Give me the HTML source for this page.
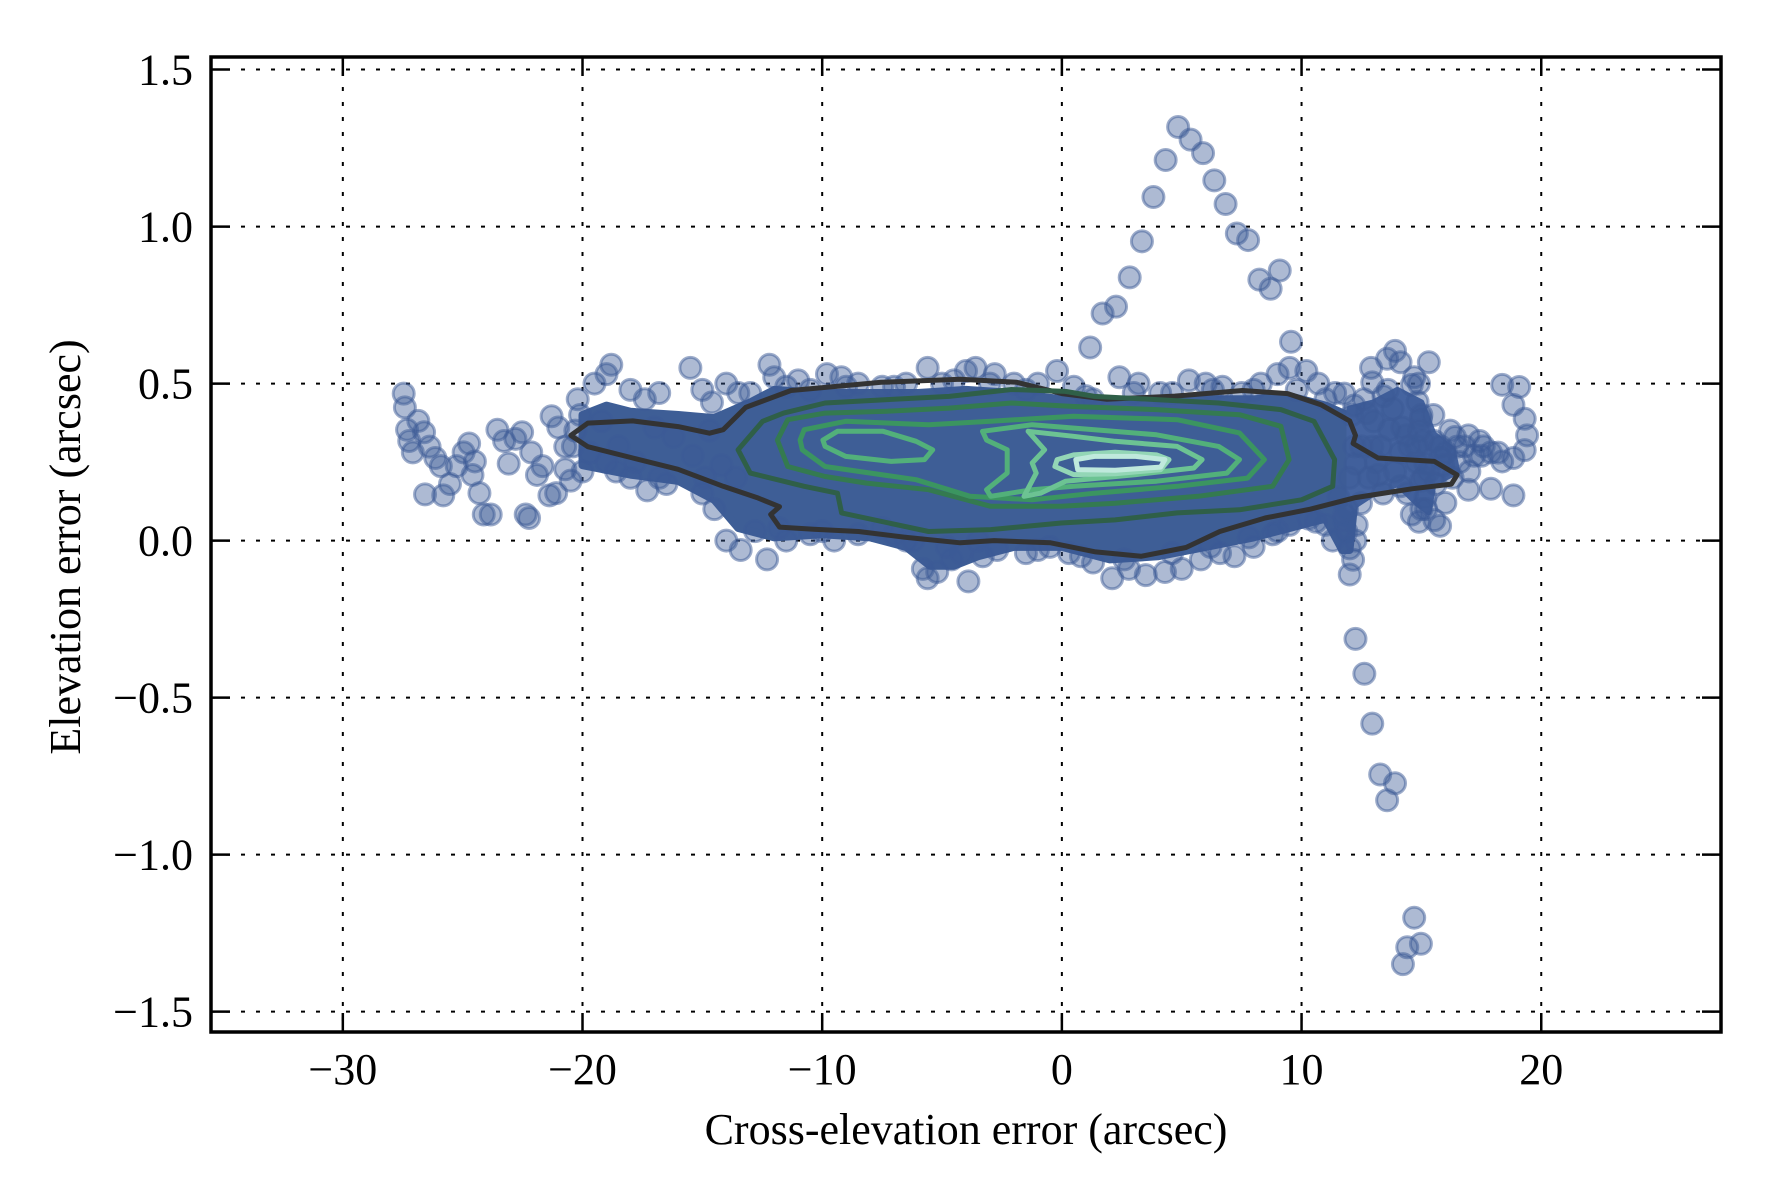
<!DOCTYPE html>
<html><head><meta charset="utf-8"><title>Pointing error scatter</title>
<style>
html,body{margin:0;padding:0;background:#fff;}
svg{display:block;font-family:"Liberation Serif","DejaVu Serif",serif;}
</style></head>
<body>
<svg id="chart" width="1770" height="1200" viewBox="0 0 1770 1200" xmlns="http://www.w3.org/2000/svg"></svg>
<script>
// ---- axis ranges & ticks ----
const xTicks = [-30,-20,-10,0,10,20];
const yTicks = [-1.5,-1.0,-0.5,0.0,0.5,1.0,1.5];
const xTickLabels = ["\u221230","\u221220","\u221210","0","10","20"];
const yTickLabels = ["\u22121.5","\u22121.0","\u22120.5","0.0","0.5","1.0","1.5"];

// ---- dense core of the point cloud (outline, data units) ----
const coreX = [-20.0,-19,-18,-16,-14.5,-13,-12,-10,-8,-6,-4,-2,0,2,4,6,8,9.5,11,11.9,12.2,12.2,12.0,11.7,11,10,8,6,4,2,0,-2,-3.5,-4.5,-5.5,-6.5,-8,-10,-12,-13.5,-14.5,-16,-18,-20];
const coreY = [0.40,0.43,0.41,0.40,0.39,0.44,0.48,0.47,0.47,0.47,0.48,0.47,0.45,0.44,0.44,0.45,0.45,0.46,0.43,0.40,0.30,0.12,-0.03,-0.03,0.07,0.05,0.01,-0.02,-0.05,-0.06,-0.02,-0.02,-0.05,-0.08,-0.08,-0.02,0.01,0.02,0.01,0.04,0.13,0.19,0.21,0.24];
const coreRX = [12.0,13.0,14.0,15.0,15.5,16.3,16.5,15.5,15.3,14.8,14.0,13.0,12.0];
const coreRY = [0.42,0.44,0.48,0.44,0.34,0.29,0.22,0.18,0.09,0.12,0.18,0.15,0.10];

// ---- individual scatter points (data units) ----
const ptX = [
 1.18,1.70,2.26,2.83,3.34,3.82,4.33,4.85,5.37,5.89,6.36,6.83,7.30,7.77,8.24,8.71,9.09,9.56,
 12.25,12.62,12.95,13.28,13.57,13.90,14.70,14.41,14.98,14.23,
 -27.46,-27.41,-27.32,-27.23,-27.08,-26.85,-26.61,-26.38,-26.14,-25.91,-26.57,-25.81,-25.53,-25.25,-24.96,-24.73,-24.49,-24.59,-24.30,-24.12,-23.83,-23.55,-23.27,-23.08,-22.80,-22.52,-22.37,-22.23,-22.14,-21.90,-21.67,-21.38,-21.10,-21.29,-21.01,-20.72,-20.72,-20.49,
 19.08,18.84,19.31,19.41,19.31,18.84,18.37,17.90,17.43,16.96,16.49,16.02,15.54,17.90,18.84,18.37,16.96,15.78,
 13.57,13.90,14.13,14.60,14.84,14.98,15.07,15.17,14.98,15.17,15.54,15.78,15.31,14.37,14.13,
 11.54,11.78,11.87,12.01,12.15,12.01,11.78,12.25,11.78,12.95,13.42,12.72,13.66,12.95,12.25,13.19,14.13,14.60,12.48,
 -20.2,-19.5,-19,-18.8,-18,-17.4,-16.8,-15.5,-15,-14.6,-14,-13.5,-12.2,-12,-11.5,-10.5,-9.8,-9.2,-8.5,-7.5,-6.5,-5.6,-5,-4,-3.6,-2.8,-2,-1,-0.2,0.5,1.3,2.4,3.2,4.1,5.3,6,6.7,7.5,8.3,9,9.5,10.2,10.7,11.4,12.2,
 -20,-19,-18,-17.3,-16.5,-15,-14.5,-14,-13.4,-12.3,-11.5,-10.5,-9.5,-8.5,-7.5,-6.5,-5.8,-5.6,-5.2,-4.6,-4.2,-3.9,-3.3,-2.7,-1.5,-0.5,0.3,1.3,2.1,2.8,3.5,4.3,5,5.8,6.6,7.2,8,8.8,9.5,10.3,11,11.3,
 12.6,13,13.3,13.8,14.2,14.5,14.8,15.3,15.8,16.2,16.6,17.2,17.6,18.2,12.8,13.4,13.9,12.5,13.1,14.4,15.6,16.3,17,16,15.2,14.9,15.5,13.6,12.9,14.7,
 -20.3,-19.7,-19.2,-18.5,-17.8,-17,-16.2,-15.4,-14.7,-14.2,-13.6,-14.9,-16.8,-18.6,-20.4,-20.1,
 -13.0,-11.0,-9.0,-7.0,-4.5,-3.0,-1.5,1.0,3.0,4.6,6.3,8.0,9.8,11.0,
 -12.8,-11.8,-10.0,-7.0,-6.2,-4.8,-3.5,-1.0,0.8,2.6,4.6,6.2,7.8,9.0,10.6,
 12.1,12.2,12.0,11.9,12.3,14.9,15.0,14.8,15.1,15.0,14.9,16.8,17.5,16.4,15.9
];
const ptY = [
 0.615,0.723,0.745,0.838,0.953,1.094,1.212,1.317,1.277,1.234,1.147,1.072,0.978,0.957,0.831,0.802,0.860,0.633,
 -0.313,-0.424,-0.583,-0.745,-0.827,-0.773,-1.201,-1.295,-1.284,-1.349,
 0.468,0.424,0.353,0.317,0.281,0.381,0.345,0.299,0.263,0.237,0.147,0.144,0.180,0.237,0.281,0.309,0.252,0.209,0.151,0.083,0.083,0.353,0.317,0.245,0.324,0.345,0.083,0.072,0.281,0.209,0.237,0.144,0.151,0.396,0.360,0.299,0.227,0.191,
 0.489,0.432,0.388,0.335,0.288,0.263,0.252,0.281,0.317,0.335,0.299,0.281,0.317,0.165,0.144,0.496,0.162,0.263,
 0.579,0.604,0.568,0.496,0.442,0.388,0.317,0.245,0.191,0.137,0.065,0.047,0.568,0.335,0.281,
 0.137,0.083,0.029,-0.025,-0.061,-0.108,0.065,0.0,0.468,0.504,0.460,0.406,0.353,0.299,0.245,0.209,0.173,0.083,0.119,
 0.45,0.50,0.53,0.56,0.48,0.45,0.47,0.55,0.48,0.44,0.50,0.47,0.56,0.52,0.49,0.48,0.53,0.52,0.50,0.49,0.50,0.55,0.50,0.54,0.55,0.53,0.50,0.50,0.54,0.49,0.45,0.52,0.50,0.47,0.51,0.50,0.49,0.47,0.50,0.53,0.55,0.54,0.50,0.47,0.43,
 0.22,0.25,0.20,0.16,0.18,0.15,0.10,0.0,-0.03,-0.06,0.0,0.02,0.0,0.02,0.04,0.0,-0.09,-0.12,-0.10,-0.06,-0.04,-0.13,-0.05,-0.03,-0.04,-0.02,-0.04,-0.07,-0.12,-0.09,-0.11,-0.10,-0.09,-0.06,-0.04,-0.05,-0.02,0.02,0.05,0.07,0.05,0.0,
 0.45,0.38,0.30,0.42,0.36,0.30,0.25,0.22,0.30,0.35,0.25,0.27,0.30,0.28,0.20,0.15,0.22,0.30,0.25,0.15,0.18,0.20,0.22,0.12,0.10,0.35,0.40,0.48,0.55,0.52,
 0.35,0.28,0.38,0.30,0.25,0.36,0.33,0.27,0.35,0.24,0.20,0.20,0.20,0.22,0.30,0.40,
 0.47,0.51,0.49,0.49,0.51,0.50,0.48,0.46,0.47,0.47,0.48,0.48,0.48,0.45,
 0.03,0.04,0.03,0.02,0.0,-0.02,0.0,-0.03,-0.05,-0.06,-0.04,-0.02,0.01,0.03,0.06,
 0.40,0.30,0.20,0.10,0.05,0.50,0.40,0.30,0.20,0.10,0.06,0.30,0.27,0.33,0.24
];

// ---- KDE contours (data units), outermost to innermost ----
const c1X = [-20.49,-19.78,-17.90,-16.01,-14.70,-14.13,-13.19,-11.30,-7.54,-4.24,-1.88,0,1.88,4.71,7.54,9.42,10.83,12.01,12.25,12.15,13.19,15.54,16.49,16.25,14.60,12.25,10.36,8.48,6.59,5.18,3.30,1.41,-0.47,-2.83,-4.24,-6.59,-8.48,-10.36,-11.78,-12.15,-11.78,-12.72,-14.13,-16.01,-17.90,-19.78];
const c1Y = [0.335,0.374,0.381,0.363,0.342,0.353,0.424,0.478,0.504,0.514,0.504,0.468,0.450,0.460,0.478,0.468,0.432,0.381,0.335,0.309,0.263,0.252,0.209,0.180,0.165,0.137,0.100,0.072,0.029,-0.022,-0.050,-0.036,-0.007,0,-0.007,0.011,0.029,0.036,0.043,0.083,0.108,0.137,0.173,0.227,0.263,0.299];
const c2X = [-13.51,-12.48,-11.61,-9.88,-7.29,-4.70,-2.10,0.15,1.36,3.95,6.54,9.14,10.52,11.38,11.30,10.0,7.41,4.81,2.22,-0.03,-2.97,-5.56,-9.19,-9.36,-10.75,-13.0];
const c2Y = [0.289,0.380,0.406,0.438,0.449,0.459,0.481,0.475,0.459,0.449,0.438,0.417,0.380,0.258,0.173,0.130,0.098,0.088,0.066,0.056,0.035,0.029,0.088,0.151,0.173,0.215];
const c3X = [-11.87,-11.44,-9.88,-7.29,-4.70,-2.10,0.49,3.95,7.41,9.14,9.48,8.79,5.68,2.22,-0.03,-2.97,-5.56,-8.15,-9.88,-11.44];
const c3Y = [0.32,0.385,0.406,0.412,0.422,0.438,0.427,0.417,0.401,0.364,0.258,0.173,0.141,0.119,0.109,0.109,0.162,0.183,0.204,0.236];
const c4X = [-10.92,-10.75,-9.02,-5.56,-2.97,0.49,4.81,7.41,8.45,7.75,4.81,1.36,-1.24,-3.83,-6.08,-9.88,-10.83];
const c4Y = [0.32,0.353,0.38,0.369,0.38,0.396,0.385,0.343,0.258,0.199,0.173,0.151,0.13,0.141,0.194,0.236,0.289];
const c5aX = [-9.97,-9.36,-7.46,-6.08,-5.39,-5.73,-7.12,-9.02,-9.88];
const c5aY = [0.32,0.348,0.348,0.316,0.289,0.258,0.252,0.268,0.30];
const c5bX = [-3.31,-1.24,1.36,3.95,6.54,7.41,6.89,3.95,0.49,-1.24,-2.97,-3.14,-2.28,-2.28,-3.14];
const c5bY = [0.348,0.369,0.353,0.337,0.30,0.258,0.215,0.189,0.173,0.162,0.141,0.162,0.215,0.289,0.32];
const c6X = [-1.41,0.49,2.22,4.81,5.85,5.51,3.08,0.15,-0.89,-1.58,-1.07,-1.24,-0.72];
const c6Y = [0.348,0.332,0.316,0.30,0.258,0.231,0.21,0.189,0.151,0.141,0.215,0.247,0.289];
const c7X = [-0.20,0.49,2.22,3.95,4.47,4.12,2.22,0.49,-0.29];
const c7Y = [0.258,0.273,0.281,0.273,0.258,0.226,0.213,0.21,0.236];
const c8X = [0.58,1.36,3.08,4.30,4.12,2.22,0.66];
const c8Y = [0.258,0.268,0.268,0.258,0.234,0.224,0.226];

// ---- layout ----
const L=211, R=1721, T=57, B=1032;
const xMin=-35.5, xMax=27.5, yMin=-1.565, yMax=1.54;
function sx(v){return L+(v-xMin)/(xMax-xMin)*(R-L);}
function sy(v){return B-(v-yMin)/(yMax-yMin)*(B-T);}

const NS="http://www.w3.org/2000/svg";
const svg=document.getElementById('chart');
function mk(tag,attrs,parent){const e=document.createElementNS(NS,tag);for(const k in attrs)e.setAttribute(k,attrs[k]);(parent||svg).appendChild(e);return e;}

const defs=mk('defs',{});
const cp=mk('clipPath',{id:'plotclip'},defs);
mk('rect',{x:L,y:T,width:R-L,height:B-T},cp);

// grid
const grid=mk('g',{});


xTicks.forEach(v=>{
  const l=mk('line',{x1:sx(v),x2:sx(v),y1:T,y2:B,stroke:'#000','stroke-width':2,'stroke-dasharray':'4 11'},grid);
  
  
});
yTicks.forEach(v=>{
  const l=mk('line',{x1:L,x2:R,y1:sy(v),y2:sy(v),stroke:'#000','stroke-width':2,'stroke-dasharray':'4 11'},grid);
  
  
});

const plot=mk('g',{'clip-path':'url(#plotclip)'});



function ptsStr(xs,ys){return xs.map((x,i)=>sx(x).toFixed(1)+','+sy(ys[i]).toFixed(1)).join(' ');}

// dense core
const core=mk('polygon',{points:ptsStr(coreX,coreY),fill:'#3e5e96',stroke:'#3e5e96','stroke-width':8,'stroke-linejoin':'round'},plot);


const coreR=mk('polygon',{points:ptsStr(coreRX,coreRY),fill:'#4564a0',stroke:'#4564a0','stroke-width':6,'stroke-linejoin':'round'},plot);



// scatter points
const pg=mk('g',{},plot);


ptX.forEach((x,i)=>{
  const c=mk('circle',{cx:sx(x),cy:sy(ptY[i]),r:10.5,fill:'rgba(59,90,150,0.42)',stroke:'rgba(59,90,150,0.5)','stroke-width':3},pg);
  
  
});

// contours
const contours=[
 [c1X,c1Y,'#333333','contour-level-1'],
 [c2X,c2Y,'#2f5f48','contour-level-2'],
 [c3X,c3Y,'#347a50','contour-level-3'],
 [c4X,c4Y,'#3b9560','contour-level-4'],
 [c5aX,c5aY,'#52b07a','contour-level-5-left'],
 [c5bX,c5bY,'#52b07a','contour-level-5-right'],
 [c6X,c6Y,'#6cc393','contour-level-6'],
 [c7X,c7Y,'#93d6b6','contour-level-7'],
 [c8X,c8Y,'#bfe9dc','contour-level-8']
];
contours.forEach(c=>{
  const p=mk('polygon',{points:ptsStr(c[0],c[1]),fill:'none',stroke:c[2],'stroke-width':5,'stroke-linejoin':'round'},plot);
  
  
});

// ticks (inward, all four sides)
const tk=mk('g',{});


xTicks.forEach(v=>{
  mk('line',{x1:sx(v),x2:sx(v),y1:B,y2:B-19,stroke:'#000','stroke-width':2.5},tk);
  mk('line',{x1:sx(v),x2:sx(v),y1:T,y2:T+19,stroke:'#000','stroke-width':2.5},tk);
});
yTicks.forEach(v=>{
  mk('line',{x1:L,x2:L+19,y1:sy(v),y2:sy(v),stroke:'#000','stroke-width':2.5},tk);
  mk('line',{x1:R,x2:R-19,y1:sy(v),y2:sy(v),stroke:'#000','stroke-width':2.5},tk);
});

// frame
const fr=mk('rect',{x:L,y:T,width:R-L,height:B-T,fill:'none',stroke:'#000','stroke-width':3.5});



// tick labels
xTicks.forEach((v,i)=>{
  const t=mk('text',{x:sx(v),y:1084,'font-size':44,'text-anchor':'middle'});
  t.textContent=xTickLabels[i];
  
  
});
yTicks.forEach((v,i)=>{
  const t=mk('text',{x:193,y:sy(v)+15,'font-size':44,'text-anchor':'end'});
  t.textContent=yTickLabels[i];
  
  
});

// axis titles
const xt=mk('text',{x:966,y:1144,'font-size':44,'text-anchor':'middle'});
xt.textContent='Cross-elevation error (arcsec)';


const yt=mk('text',{x:0,y:0,'font-size':44,'text-anchor':'middle',transform:'translate(80,547) rotate(-90)'});
yt.textContent='Elevation error (arcsec)';


</script>
</body></html>
